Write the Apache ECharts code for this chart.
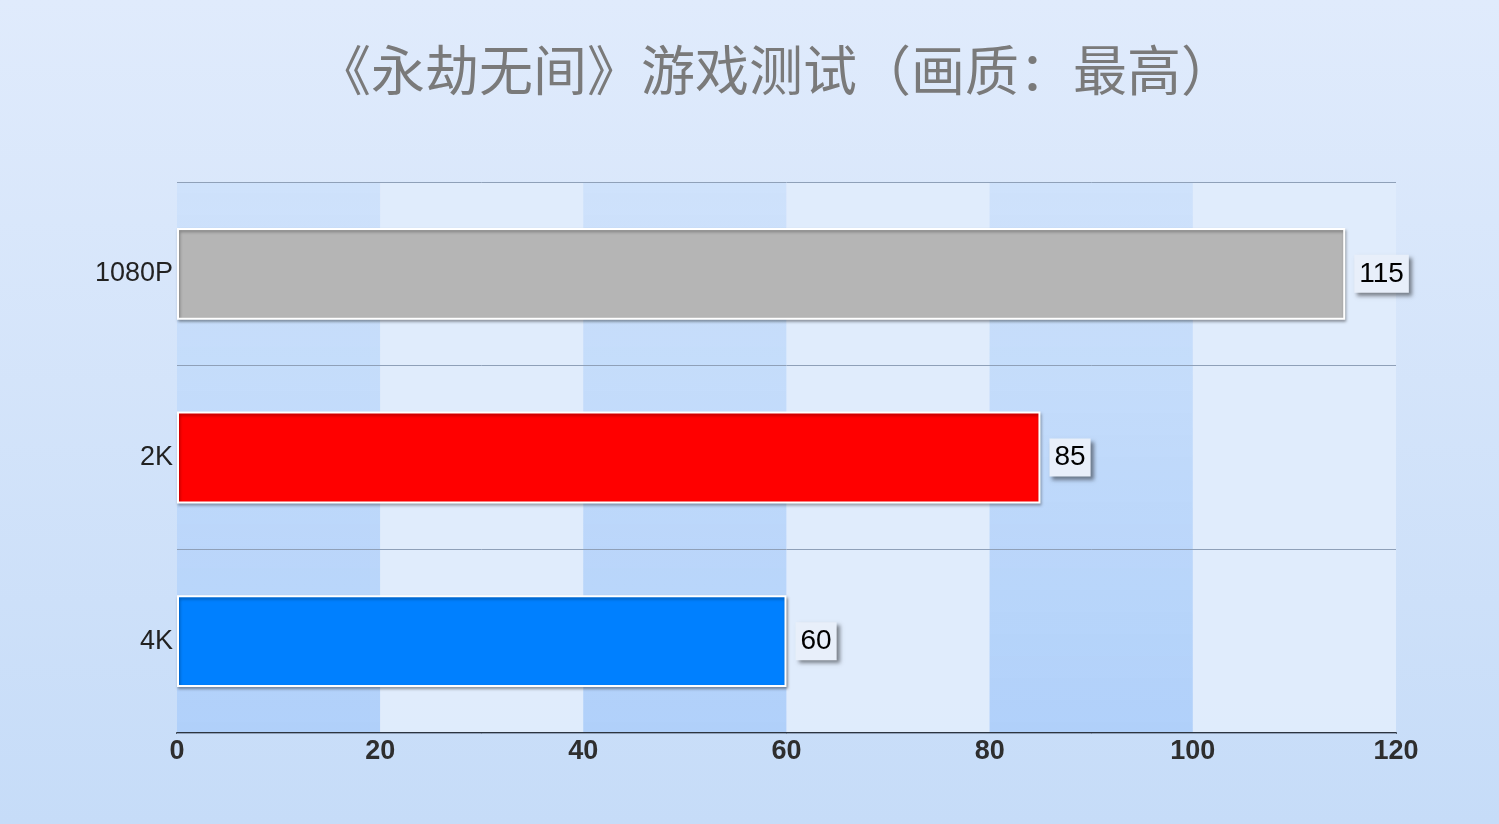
<!DOCTYPE html>
<html><head><meta charset="utf-8">
<script src="https://cdn.jsdelivr.net/npm/echarts@6/dist/echarts.min.js"></script>
<style>html,body{margin:0;padding:0;}#c{width:1499px;height:824px;background:linear-gradient(180deg,#e0ebfc 0%,#c6dcf8 100%);}</style>
</head><body><div id="c"></div>
<script>
const titleText = '《永劫无间》游戏测试（画质：最高）';
const categories = ['1080P', '2K', '4K'];
const values = [115, 85, 60];
const barColors = ['#b5b5b5', '#ff0000', '#0080ff'];
const xTicks = [0, 20, 40, 60, 80, 100, 120];

const chart = echarts.init(document.getElementById('c'), null, {renderer: 'canvas'});
const dark = new echarts.graphic.LinearGradient(0, 0, 0, 1, [
  {offset: 0, color: 'rgba(205,225,251,0.9)'},
  {offset: 1, color: 'rgba(176,208,250,1)'}
]);
const light = 'rgba(224,236,252,0.95)';
chart.setOption({
  backgroundColor: 'transparent',
  title: {
    text: titleText, left: 312, top: 38,
    textStyle: {fontFamily: 'Noto Sans CJK SC', fontSize: 54, fontWeight: 'normal', color: '#7a7a7a'}
  },
  grid: {left: 177, right: 103, top: 182, bottom: 91, containLabel: false},
  xAxis: {
    type: 'value', min: xTicks[0], max: xTicks[xTicks.length - 1], interval: 20, z: 1,
    axisLine: {show: true, lineStyle: {color: '#2b3440', width: 2}},
    axisTick: {show: false},
    splitLine: {show: false},
    splitArea: {show: true, areaStyle: {color: [dark, light]}},
    axisLabel: {fontFamily: 'Liberation Sans', fontSize: 27, fontWeight: 'bold', color: '#2e2e2e', margin: 5}
  },
  yAxis: {
    type: 'category', data: categories, inverse: true, z: 3,
    axisLine: {show: false}, axisTick: {show: false},
    splitLine: {show: true, lineStyle: {color: '#8fa0b8', width: 1}},
    axisLabel: {fontFamily: 'Liberation Sans', fontSize: 27, color: '#222', margin: 4}
  },
  series: [{
    type: 'bar', barWidth: '50%', z: 4,
    data: values.map((v, i) => ({value: v, itemStyle: {color: barColors[i]}})),
    itemStyle: {borderColor: '#ffffff', borderWidth: 2, shadowColor: 'rgba(0,0,0,0.35)', shadowBlur: 3, shadowOffsetX: 1, shadowOffsetY: 2},
    label: {
      show: true, position: 'right', distance: 9,
      fontFamily: 'Liberation Sans', fontSize: 28, color: '#000',
      backgroundColor: '#e8effa', padding: [6, 5, 4, 5],
      shadowColor: 'rgba(0,0,0,0.45)', shadowBlur: 4, shadowOffsetX: 3, shadowOffsetY: 3
    }
  }]
});
</script></body></html>
